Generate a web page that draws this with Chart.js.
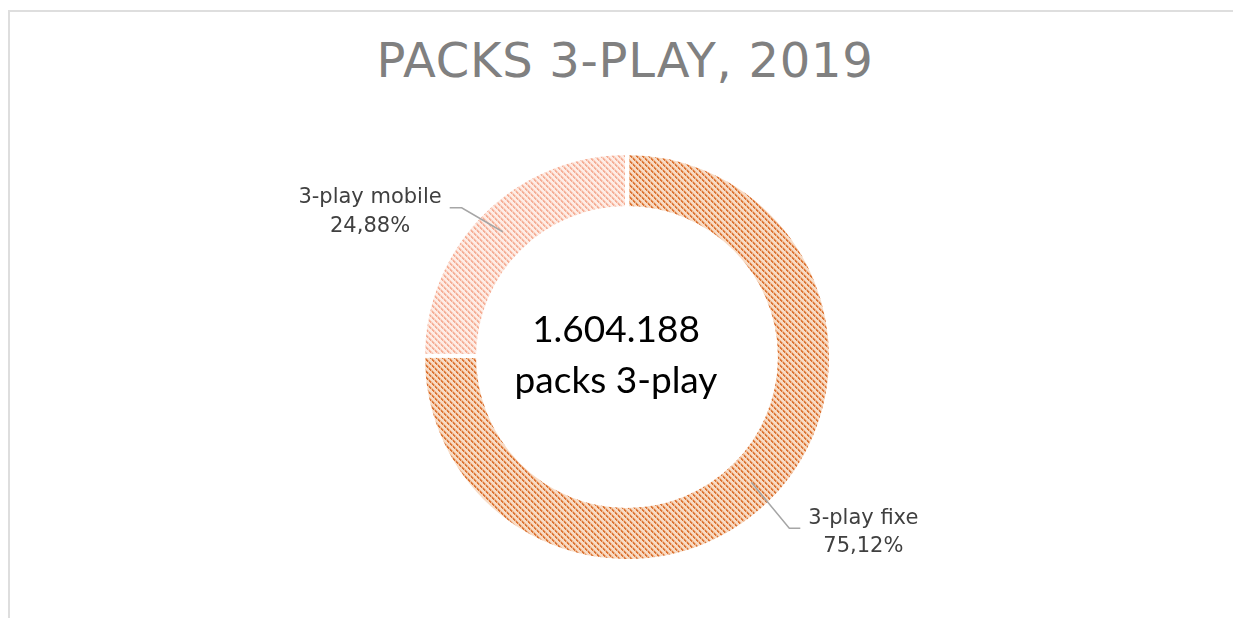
<!DOCTYPE html>
<html>
<head>
<meta charset="utf-8">
<script src="https://cdn.jsdelivr.net/npm/chart.js@4.4.1/dist/chart.umd.min.js"></script>
<style>
  html, body { margin: 0; padding: 0; background: #fff; overflow: hidden; }
  #frame { position: absolute; left: 8px; top: 10px; width: 1300px; height: 700px;
           border-left: 2px solid #dedede; border-top: 2px solid #dedede; }
  #title { position: absolute; left: 0; width: 1250px; top: 30px; text-align: center;
           font-family: "DejaVu Sans", sans-serif; font-size: 48px; color: #808080;
           line-height: 60px; letter-spacing: 0.7px; }
  #chart { position: absolute; left: 0; top: 0; }
</style>
</head>
<body>
<div id="frame"></div>
<div id="title">PACKS 3-PLAY, 2019</div>
<canvas id="chart" width="1233" height="618"></canvas>
<script>
const categories = ["3-play fixe", "3-play mobile"];
const shares = [75.12, 24.88];
const shareLabels = ["75,12%", "24,88%"];
const totalLines = ["1.604.188", "packs 3-play"];

// excel-like diagonal hatch, dashed "\" stripes
function hatch(bg, mid, fg) {
    const n = 6;
    const c = document.createElement("canvas");
    c.width = n; c.height = n;
    const g = c.getContext("2d");
    for (let y = 0; y < n; y++) {
        for (let x = 0; x < n; x++) {
            const k = (x - y + n) % n;
            let col = bg;
            if (k === 0 || k === 1) col = (x % 3 === 2) ? mid : fg;
            else if (k === 2) col = mid;
            g.fillStyle = col;
            g.fillRect(x, y, 1, 1);
        }
    }
    return g.createPattern(c, "repeat");
}

const fills = [hatch("#f8dcc6", "#eeb48c", "#dc7434"), hatch("#feede6", "#fad0c0", "#f5ae96")];
// elbow offsets for the leader lines (from the ring, then horizontal)
const leaders = [
    { dx: 38, dy: 46, h: 11 },
    { dx: -41, dy: -24, h: -12 }
];

const labelsPlugin = {
    id: "labels",
    afterDatasetsDraw(chart) {
        const ctx = chart.ctx;
        const meta = chart.getDatasetMeta(0);
        ctx.save();
        meta.data.forEach((arc, i) => {
            const p = arc.getProps(["x", "y", "startAngle", "endAngle", "innerRadius", "outerRadius"], true);
            const mid = (p.startAngle + p.endAngle) / 2;
            const r = (p.innerRadius + p.outerRadius) / 2;
            const x0 = p.x + Math.cos(mid) * r;
            const y0 = p.y + Math.sin(mid) * r;
            const L = leaders[i];
            const x1 = x0 + L.dx, y1 = y0 + L.dy, x2 = x1 + L.h;
            ctx.strokeStyle = "#a6a6a6";
            ctx.lineWidth = 1.5;
            ctx.beginPath();
            ctx.moveTo(x0, y0);
            ctx.lineTo(x1, y1);
            ctx.lineTo(x2, y1);
            ctx.stroke();

            ctx.font = "21px 'DejaVu Sans'";
            ctx.fillStyle = "#404040";
            ctx.textAlign = "center";
            ctx.textBaseline = "alphabetic";
            const lines = [categories[i], shareLabels[i]];
            const w = Math.max(...lines.map(t => ctx.measureText(t).width));
            const cx = L.h > 0 ? x2 + 8 + w / 2 : x2 - 8 - w / 2;
            ctx.fillText(lines[0], cx, y1 - 4.5);
            ctx.fillText(lines[1], cx, y1 + 24);
        });

        const a = meta.data[0];
        ctx.font = "37px Lato";
        ctx.fillStyle = "#000000";
        ctx.textAlign = "center";
        ctx.fillText(totalLines[0], a.x - 11, a.y - 15);
        ctx.fillText(totalLines[1], a.x - 11, a.y + 36);
        ctx.restore();
    }
};

new Chart(document.getElementById("chart"), {
    type: "doughnut",
    data: {
        labels: categories,
        datasets: [{
            data: shares,
            backgroundColor: fills,
            borderColor: "#ffffff",
            borderWidth: 4,
            hoverOffset: 0
        }]
    },
    options: {
        responsive: false,
        animation: false,
        radius: 204,
        cutout: 146,
        layout: { padding: { top: 155, bottom: 59, left: 21, right: 0 } },
        plugins: {
            legend: { display: false },
            tooltip: { enabled: false }
        }
    },
    plugins: [labelsPlugin]
});
</script>
</body>
</html>
